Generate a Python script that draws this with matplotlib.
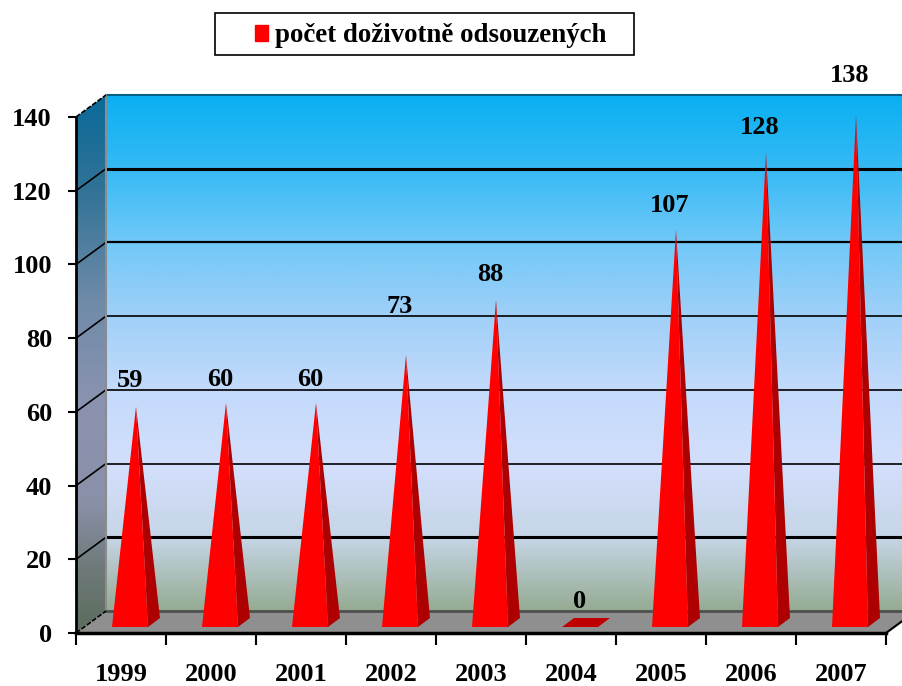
import matplotlib.pyplot as plt
import numpy as np
from matplotlib.colors import LinearSegmentedColormap
from matplotlib.patches import Patch, Polygon, Rectangle

plt.rcParams['font.family'] = ['Liberation Serif', 'DejaVu Serif']
plt.rcParams['font.weight'] = 'bold'

years = ['1999', '2000', '2001', '2002', '2003', '2004', '2005', '2006', '2007']
counts = [59, 60, 60, 73, 88, 0, 107, 128, 138]
y_ticks = [0, 20, 40, 60, 80, 100, 120, 140]
legend_label = 'počet doživotně odsouzených'

# labels do not sit at a constant height above the spikes in the original
label_lift = [35, 32, 32, 57, 34, 32, 33, 34, 49]

W, H = 903, 686
fig = plt.figure(figsize=(W / 100, H / 100), dpi=100)
ax = fig.add_axes([76 / W, 1 - 633 / H, 810 / W, 516 / H])
ax.patch.set_visible(False)

PX = 1 / 90.0         # one pixel in x data units
PY = 140 / 516.0      # one pixel in y data units
dx, dy = 30 * PX, 22 * PY
x_end, y_end = len(years), 140

back_cm = LinearSegmentedColormap.from_list('back', [
    (0.0, '#0AB0F2'), (0.14, '#35BAF5'), (0.28, '#6FC8F8'), (0.43, '#A0D0F8'),
    (0.57, '#C3DAFB'), (0.72, '#D3DFFC'), (0.86, '#C6D5E6'), (1.0, '#95AB92')])
side_cm = LinearSegmentedColormap.from_list('side', [
    (0.0, '#0A6A9A'), (0.17, '#307296'), (0.38, '#6E8BA8'), (0.57, '#8A93B0'),
    (0.76, '#8A90A8'), (0.88, '#6E7A7A'), (1.0, '#5C6C5C')])
grad = np.linspace(0, 1, 256).reshape(-1, 1)

# back wall, runs off the right side of the figure
ax.imshow(grad, cmap=back_cm, aspect='auto', clip_on=False, zorder=1,
          extent=[dx, x_end + dx, dy, y_end + dy])
# left wall
im = ax.imshow(grad, cmap=side_cm, aspect='auto', zorder=1,
               extent=[0, dx, 0, y_end + dy])
side = Polygon([(0, 0), (dx, dy), (dx, y_end + dy), (0, y_end)],
               closed=True, fc='none', ec='none', transform=ax.transData)
ax.add_patch(side)
side.set_clip_on(False)
im.set_clip_path(side)
im.set_clip_box(fig.bbox)

# floor
ax.fill([0, x_end, x_end + dx, dx], [0, 0, dy, dy], color='#8F8F8F', clip_on=False, zorder=2)

# grid on both walls
grid_widths = {20: 2.2, 40: 1.2, 60: 1.2, 80: 1.2, 100: 1.6, 120: 2.2}
for v in y_ticks[1:-1]:
    ax.plot([dx, x_end + dx], [v + dy, v + dy], color='black',
            lw=grid_widths[v], clip_on=False, zorder=3)
    ax.plot([0, dx], [v, v + dy], color='black', lw=1.2, clip_on=False, zorder=3)

# wall edges
ax.plot([dx, x_end + dx], [y_end + dy, y_end + dy], color='#0A5F88', lw=1.5, clip_on=False, zorder=3)
ax.plot([dx, dx], [dy, y_end + dy], color='#8C8C8C', lw=1.5, clip_on=False, zorder=3)
ax.plot([dx, x_end + dx], [dy, dy], color='#505050', lw=2, clip_on=False, zorder=3)
ax.plot([0, dx], [y_end, y_end + dy], color='black', lw=1.2, ls=(0, (3, 1)), clip_on=False, zorder=3)
ax.plot([0, dx], [0, dy], color='black', lw=1.2, ls=(0, (3, 1)), clip_on=False, zorder=3)
ax.plot([x_end, x_end + dx], [0, dy], color='black', lw=1.5, clip_on=False, zorder=3)

# spikes
half = 18 * PX
depth_x, depth_y = 12 * PX, 9 * PY
base_y = 6 * PY
for i, v in enumerate(counts):
    cx = i + 0.5 + 9 * PX
    fl, fr = cx - half, cx + half
    peak = (cx + 6 * PX, v + 9 * PY)
    if v == 0:
        ax.fill([fl, fr, fr + depth_x, fl + depth_x],
                [base_y, base_y, base_y + depth_y, base_y + depth_y],
                color='#C00000', lw=0, zorder=4)
        continue
    ax.fill([fr, fr + depth_x, peak[0]], [base_y, base_y + depth_y, peak[1]],
            color='#AE0000', lw=0, clip_on=False, zorder=4)
    ax.fill([fl, fr, peak[0]], [base_y, base_y, peak[1]],
            color='#FF0000', lw=0, clip_on=False, zorder=5)

for i, v in enumerate(counts):
    ax.annotate(str(v), (i + 0.5, v), xytext=(9 * 0.72, label_lift[i] * 0.72),
                textcoords='offset points', ha='center', va='center',
                fontsize=19, fontweight='bold', zorder=6, annotation_clip=False)

ax.set_xlim(0, x_end)
ax.set_ylim(0, y_end)
for s in ['top', 'right']:
    ax.spines[s].set_visible(False)
ax.spines['left'].set_linewidth(2)
ax.spines['bottom'].set_linewidth(2.5)
ax.spines['left'].set_zorder(3)
ax.spines['bottom'].set_zorder(3)

ax.set_yticks(y_ticks)
ax.tick_params(axis='y', length=5.8, width=1.5, pad=11.5, labelsize=19)
ax.set_xticks(np.arange(0, x_end + 1))
ax.set_xticklabels([])
ax.set_xticks(np.arange(x_end) + 0.5, labels=years, minor=True)
ax.tick_params(axis='x', which='major', length=8.5, width=1.5)
ax.tick_params(axis='x', which='minor', length=0, pad=21.5, labelsize=19)

# legend box is much wider than its entry
fig.add_artist(Rectangle((215 / W, 1 - 55 / H), 419 / W, 42 / H, transform=fig.transFigure,
                         fc='white', ec='black', lw=1.2))
leg = fig.legend(handles=[Patch(color='#FF0000', label=legend_label)],
                 loc='center left', bbox_to_anchor=(255 / W, 1 - 36 / H),
                 fontsize=19.4, frameon=False, handlelength=0.5, handleheight=0.55,
                 handletextpad=0.25, borderpad=0, borderaxespad=0)

plt.savefig('out.png', dpi=100)
